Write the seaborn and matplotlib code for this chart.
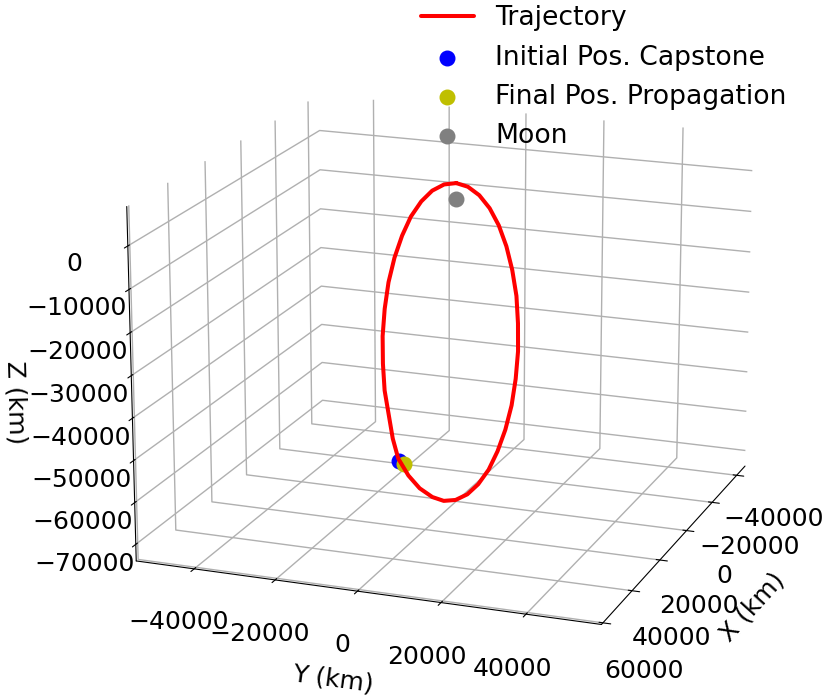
import numpy as np
import matplotlib
matplotlib.use("Agg")
import matplotlib.pyplot as plt
import seaborn as sns

# Moon-centred trajectory samples (km)
traj_x = [0, 0, 200, 300, 600, 900, 1250, 1600, 2100, 2500, 2900, 3400, 3750, 4100, 4400,
          4700, 4800, 5000, 5000, 5000, 4800, 4700, 4400, 4100, 3750, 3400, 2900, 2500,
          2100, 1600, 1250, 900, 600, 300, 200, 0, 0]
traj_y = [0, 2900, 5800, 8400, 10800, 12800, 14400, 15600, 16200, 16400, 16000, 15200, 13800,
          12000, 9900, 7400, 4700, 1800, -1200, -4100, -7400, -10300, -13000, -14500, -15600,
          -16800, -17400, -17600, -17200, -16400, -15000, -13200, -11100, -8600, -5900, -3000, 0]
traj_z = [3700, 3100, 1400, -1400, -5200, -9900, -15300, -21300, -27700, -34300, -40900,
          -47300, -53300, -58700, -63400, -67200, -70000, -71700, -72300, -71700, -70000,
          -67200, -63400, -58700, -53300, -47300, -40900, -34300, -27700, -21300, -15300,
          -9900, -5200, -1400, 1400, 3100, 3700]

initial_pos = [4400, -12900, -64000]
final_pos = [4400, -11600, -64500]
moon_pos = [0, 0, 0]

x_limits = (-47000, 61000)
y_limits = (-54500, 57500)
z_limits = (-74000, 9000)

sns.set_style("white")
plt.rcParams.update({
    "font.family": ["DejaVu Sans"],
    "font.size": 18,
    "xtick.labelsize": 18,
    "ytick.labelsize": 18,
    "axes.labelsize": 18,
    "legend.fontsize": 19.2,
    "text.color": "black",
    "axes.labelcolor": "black",
    "xtick.color": "black",
    "ytick.color": "black",
    "grid.color": "#b0b0b0",
    "axes.edgecolor": "black",
})

fig = plt.figure(figsize=(8.26, 6.96), dpi=100)
ax = fig.add_axes([0.035, -0.006, 1.0, 1.0], projection="3d", computed_zorder=False)

ax.plot(traj_x, traj_y, traj_z, color="red", lw=2.9, label="Trajectory")
ax.scatter(*[[v] for v in initial_pos], color="blue", s=110, depthshade=False,
           label="Initial Pos. Capstone")
ax.scatter(*[[v] for v in final_pos], color="y", s=110, depthshade=False,
           label="Final Pos. Propagation")
ax.scatter(*[[v] for v in moon_pos], color="gray", s=110, depthshade=False, label="Moon")

ax.set_xlim(*x_limits)
ax.set_ylim(*y_limits)
ax.set_zlim(*z_limits)
ax.set_xlabel("X (km)", labelpad=22)
ax.set_ylabel("Y (km)", labelpad=22)
ax.set_zlabel("Z (km)", labelpad=24)

for axis in (ax.xaxis, ax.yaxis, ax.zaxis):
    axis.pane.set_facecolor("white")
    axis.pane.set_edgecolor("white")
    axis._axinfo["grid"]["color"] = "#b0b0b0"
    axis._axinfo["grid"]["linewidth"] = 1.0
ax.tick_params(axis="x", pad=14)
ax.tick_params(axis="y", pad=13)
ax.tick_params(axis="z", colors="black", pad=12.5)

ax.view_init(elev=17.4, azim=20.5)
ax.set_box_aspect(None, zoom=1.07)

fig.legend(loc="upper right", bbox_to_anchor=(0.9815, 1.027), frameon=False,
           labelspacing=0.5)

fig.savefig("out.png", dpi=100)
